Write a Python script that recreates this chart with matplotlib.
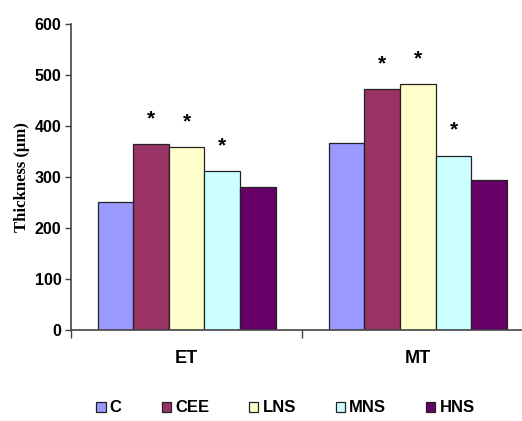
import matplotlib
matplotlib.use("Agg")
import matplotlib.pyplot as plt
import numpy as np

groups = ["ET", "MT"]
series = ["C", "CEE", "LNS", "MNS", "HNS"]
values = {
    "C":   [251, 367],
    "CEE": [365, 473],
    "LNS": [359, 483],
    "MNS": [312, 342],
    "HNS": [280, 295],
}
significant = {
    "C":   [False, False],
    "CEE": [True, True],
    "LNS": [True, True],
    "MNS": [True, True],
    "HNS": [False, False],
}
colors = ["#9999FF", "#993366", "#FFFFCC", "#CCFFFF", "#660066"]
yticks = [0, 100, 200, 300, 400, 500, 600]

sans = ["Liberation Sans", "DejaVu Sans"]

fig = plt.figure(figsize=(5.22, 4.21), dpi=100)
ax = fig.add_axes([0.136, 0.216, 0.886, 0.726])

x = np.arange(len(groups))
w = 0.154
for i, s in enumerate(series):
    pos = x + (i - 2) * w
    ax.bar(pos, values[s], width=w, color=colors[i], edgecolor="#222222",
           linewidth=0.9, label=s, zorder=2)
    for p, v, sig in zip(pos, values[s], significant[s]):
        if sig:
            ax.text(p, v + 50, "*", ha="center", va="center", fontsize=15,
                    fontweight="bold", family=sans)

ax.set_xlim(-0.5, 1.5)
ax.set_ylim(0, 600)
ax.set_yticks(yticks)
ax.set_yticklabels([str(t) for t in yticks], family=sans, fontweight="bold", fontsize=11.5)
ax.tick_params(axis="y", direction="out", length=4, width=1, color="#444444", pad=3)

ax.set_xticks([-0.5, 0.5, 1.5])
ax.set_xticklabels(["", "", ""])
ax.tick_params(axis="x", which="major", direction="out", length=6, width=1, color="#444444")
ax.set_xticks(x, minor=True)
ax.set_xticklabels(groups, minor=True, family=sans, fontweight="bold", fontsize=13)
ax.tick_params(axis="x", which="minor", length=0, pad=14)

for sp in ["top", "right"]:
    ax.spines[sp].set_visible(False)
for sp in ["left", "bottom"]:
    ax.spines[sp].set_color("#444444")
    ax.spines[sp].set_linewidth(1.2)

ax.set_ylabel("Thickness (\u00b5m)", family=["Liberation Serif", "DejaVu Serif"],
              fontweight="bold", fontsize=12, labelpad=3)

leg = fig.legend(loc="center", bbox_to_anchor=(0.547, 0.031), ncol=5, frameon=False,
                 handlelength=0.55, handleheight=0.55, handletextpad=0.25,
                 columnspacing=2.4, prop={"family": sans, "weight": "bold", "size": 12})

fig.savefig("out.png", dpi=100)
